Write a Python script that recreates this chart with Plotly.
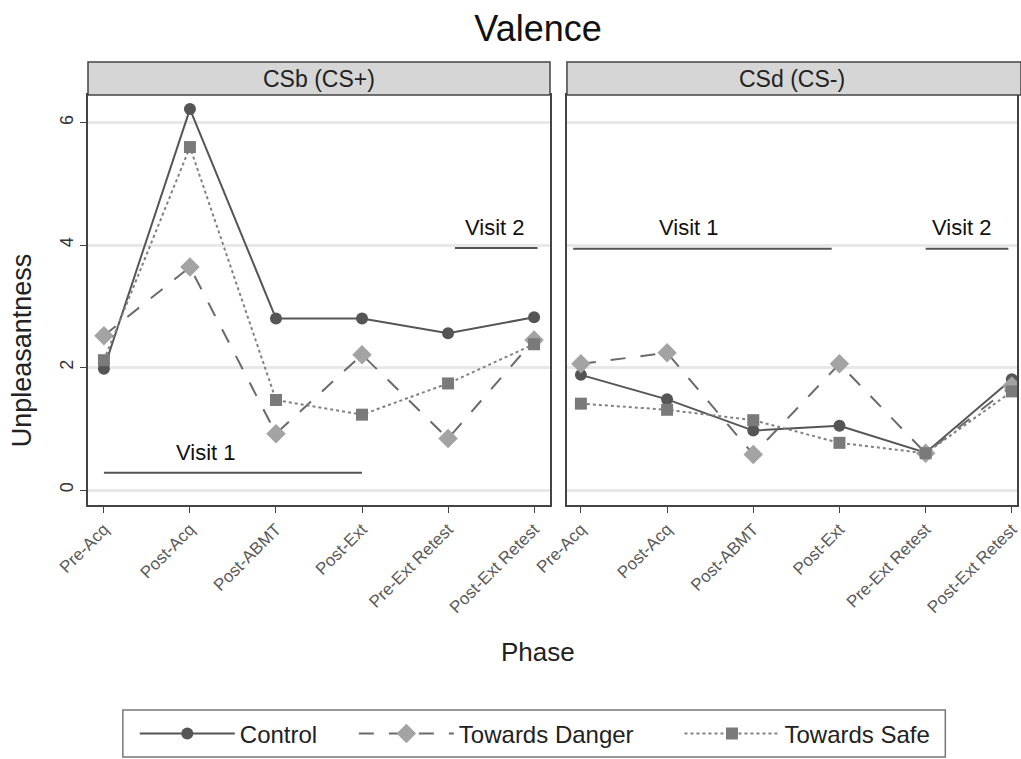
import plotly.graph_objects as go

phases = ["Pre-Acq", "Post-Acq", "Post-ABMT", "Post-Ext", "Pre-Ext Retest", "Post-Ext Retest"]
panels = ["CSb (CS+)", "CSd (CS-)"]

# CSb (CS+)
csb_control = [1.98, 6.22, 2.80, 2.80, 2.56, 2.82]
csb_danger = [2.52, 3.64, 0.92, 2.21, 0.84, 2.45]
csb_safe = [2.12, 5.60, 1.47, 1.23, 1.74, 2.38]
# CSd (CS-)
csd_control = [1.88, 1.48, 0.97, 1.05, 0.61, 1.81]
csd_danger = [2.06, 2.24, 0.58, 2.06, 0.60, 1.70]
csd_safe = [1.41, 1.31, 1.14, 0.77, 0.60, 1.61]

yticks = [0, 2, 4, 6]

series_names = ["Control", "Towards Danger", "Towards Safe"]
line_colors = ["#555555", "#6a6a6a", "#808080"]
marker_colors = ["#555555", "#a3a3a3", "#7a7a7a"]
dashes = ["solid", "longdash", "dot"]
symbols = ["circle", "diamond", "square"]
msizes = [12, 15, 12]
legend_ids = ["legend", "legend2", "legend3"]

fig = go.Figure()
xs = list(range(len(phases)))
for pi, data in enumerate([[csb_control, csb_danger, csb_safe], [csd_control, csd_danger, csd_safe]]):
    xa = "x" if pi == 0 else "x2"
    ya = "y" if pi == 0 else "y2"
    for si, vals in enumerate(data):
        fig.add_trace(go.Scatter(
            x=xs, y=vals, mode="lines+markers", name=series_names[si],
            xaxis=xa, yaxis=ya, showlegend=(pi == 0), legend=legend_ids[si],
            line=dict(color=line_colors[si], dash=dashes[si], width=2),
            marker=dict(symbol=symbols[si], size=msizes[si], color=marker_colors[si]),
        ))

M_L, M_T, M_B = 88, 62, 254
W, H = 1021, 759
pw = W - M_L
ph = H - M_T - M_B
def px(xp):
    return (xp - M_L) / pw
def py(yp):
    return (H - M_B - yp) / ph

ydom_top = py(95)
common_x = dict(tickmode="array", tickvals=xs, ticktext=phases, tickangle=-45,
                ticks="outside", ticklen=6, tickcolor="#444",
                tickfont=dict(size=17, color="#5a5a5a", family="Liberation Sans"),
                ticklabeloverflow="allow",
                showgrid=False, zeroline=False, showline=True, linecolor="#444",
                linewidth=1.5, mirror=True)
common_y = dict(range=[-0.245, 6.45], tickvals=yticks, showgrid=True, gridcolor="#e8e8e8",
                gridwidth=3, zeroline=False, showline=True, linecolor="#444",
                linewidth=1.5, mirror=True, domain=[0, ydom_top])

leg_common = dict(orientation="h", yanchor="middle", y=py(734), xanchor="left",
                  bgcolor="rgba(0,0,0,0)", borderwidth=0,
                  font=dict(size=24, color="#222"), itemwidth=95)
leg_x = [135, 355, 682]

fig.update_layout(
    width=W, height=H,
    margin=dict(l=M_L, r=0, t=M_T, b=M_B),
    paper_bgcolor="white", plot_bgcolor="white",
    font=dict(family="Liberation Sans", color="#222"),
    title=dict(text="Valence", x=px(540), xref="paper", xanchor="center",
               y=1 - 28 / H, yref="container", yanchor="middle",
               font=dict(size=36, color="#111")),
    xaxis=dict(domain=[0, px(552)], range=[-0.185, 5.185], **common_x),
    xaxis2=dict(domain=[px(569), 1], range=[-0.162, 5.06], anchor="y2", **common_x),
    yaxis=dict(ticks="outside", ticklen=6, tickcolor="#444", tickangle=-90,
               tickfont=dict(size=18, color="#333"), **common_y),
    yaxis2=dict(anchor="x2", showticklabels=False, ticks="", **common_y),
    legend=dict(x=px(leg_x[0]), **leg_common),
    legend2=dict(x=px(leg_x[1]), **leg_common),
    legend3=dict(x=px(leg_x[2]), **leg_common),
)

# legend frame
fig.add_shape(type="rect", xref="paper", yref="paper", x0=px(123), x1=px(949),
              y0=py(757), y1=py(710), line=dict(color="#777", width=1.5),
              fillcolor="rgba(0,0,0,0)")

# strips
strip_coords = [(88, 552), (569, 1025)]
strip_centers = [320, 795]
for (x0, x1), cx, label in zip(strip_coords, strip_centers, panels):
    fig.add_shape(type="rect", xref="paper", yref="paper", x0=px(x0), x1=px(x1),
                  y0=ydom_top, y1=1, fillcolor="#d6d6d6", line=dict(color="#444", width=1.5),
                  layer="above")
    fig.add_annotation(text=label, xref="paper", yref="paper", x=px(cx), xanchor="center",
                       y=(ydom_top + 1) / 2, showarrow=False, font=dict(size=23, color="#222"),
                       yanchor="middle")

# Visit annotations (data coordinates)
visit_lines = [
    ("x", "y", 0.0, 3.0, 0.28, "Visit 1", 1.19, 0.62),
    ("x", "y", 4.08, 5.04, 3.95, "Visit 2", 4.55, 4.28),
    ("x2", "y2", -0.09, 2.91, 3.94, "Visit 1", 1.25, 4.28),
    ("x2", "y2", 4.0, 4.96, 3.94, "Visit 2", 4.42, 4.28),
]
for xa, ya, x0, x1, yl, txt, tx, ty in visit_lines:
    fig.add_shape(type="line", xref=xa, yref=ya, x0=x0, x1=x1, y0=yl, y1=yl,
                  line=dict(color="#555", width=2))
    fig.add_annotation(text=txt, xref=xa, yref=ya, x=tx, y=ty, showarrow=False,
                       xanchor="center", font=dict(size=22, color="#111"))

fig.add_annotation(text="Unpleasantness", xref="paper", yref="paper", x=px(22), y=py(350),
                   textangle=-90, showarrow=False, xanchor="center", yanchor="middle",
                   font=dict(size=27, color="#222"))
fig.add_annotation(text="Phase", xref="paper", yref="paper", x=px(540), y=py(652),
                   showarrow=False, xanchor="center", yanchor="middle",
                   font=dict(size=26, color="#222"))

fig.write_html("out.html")
